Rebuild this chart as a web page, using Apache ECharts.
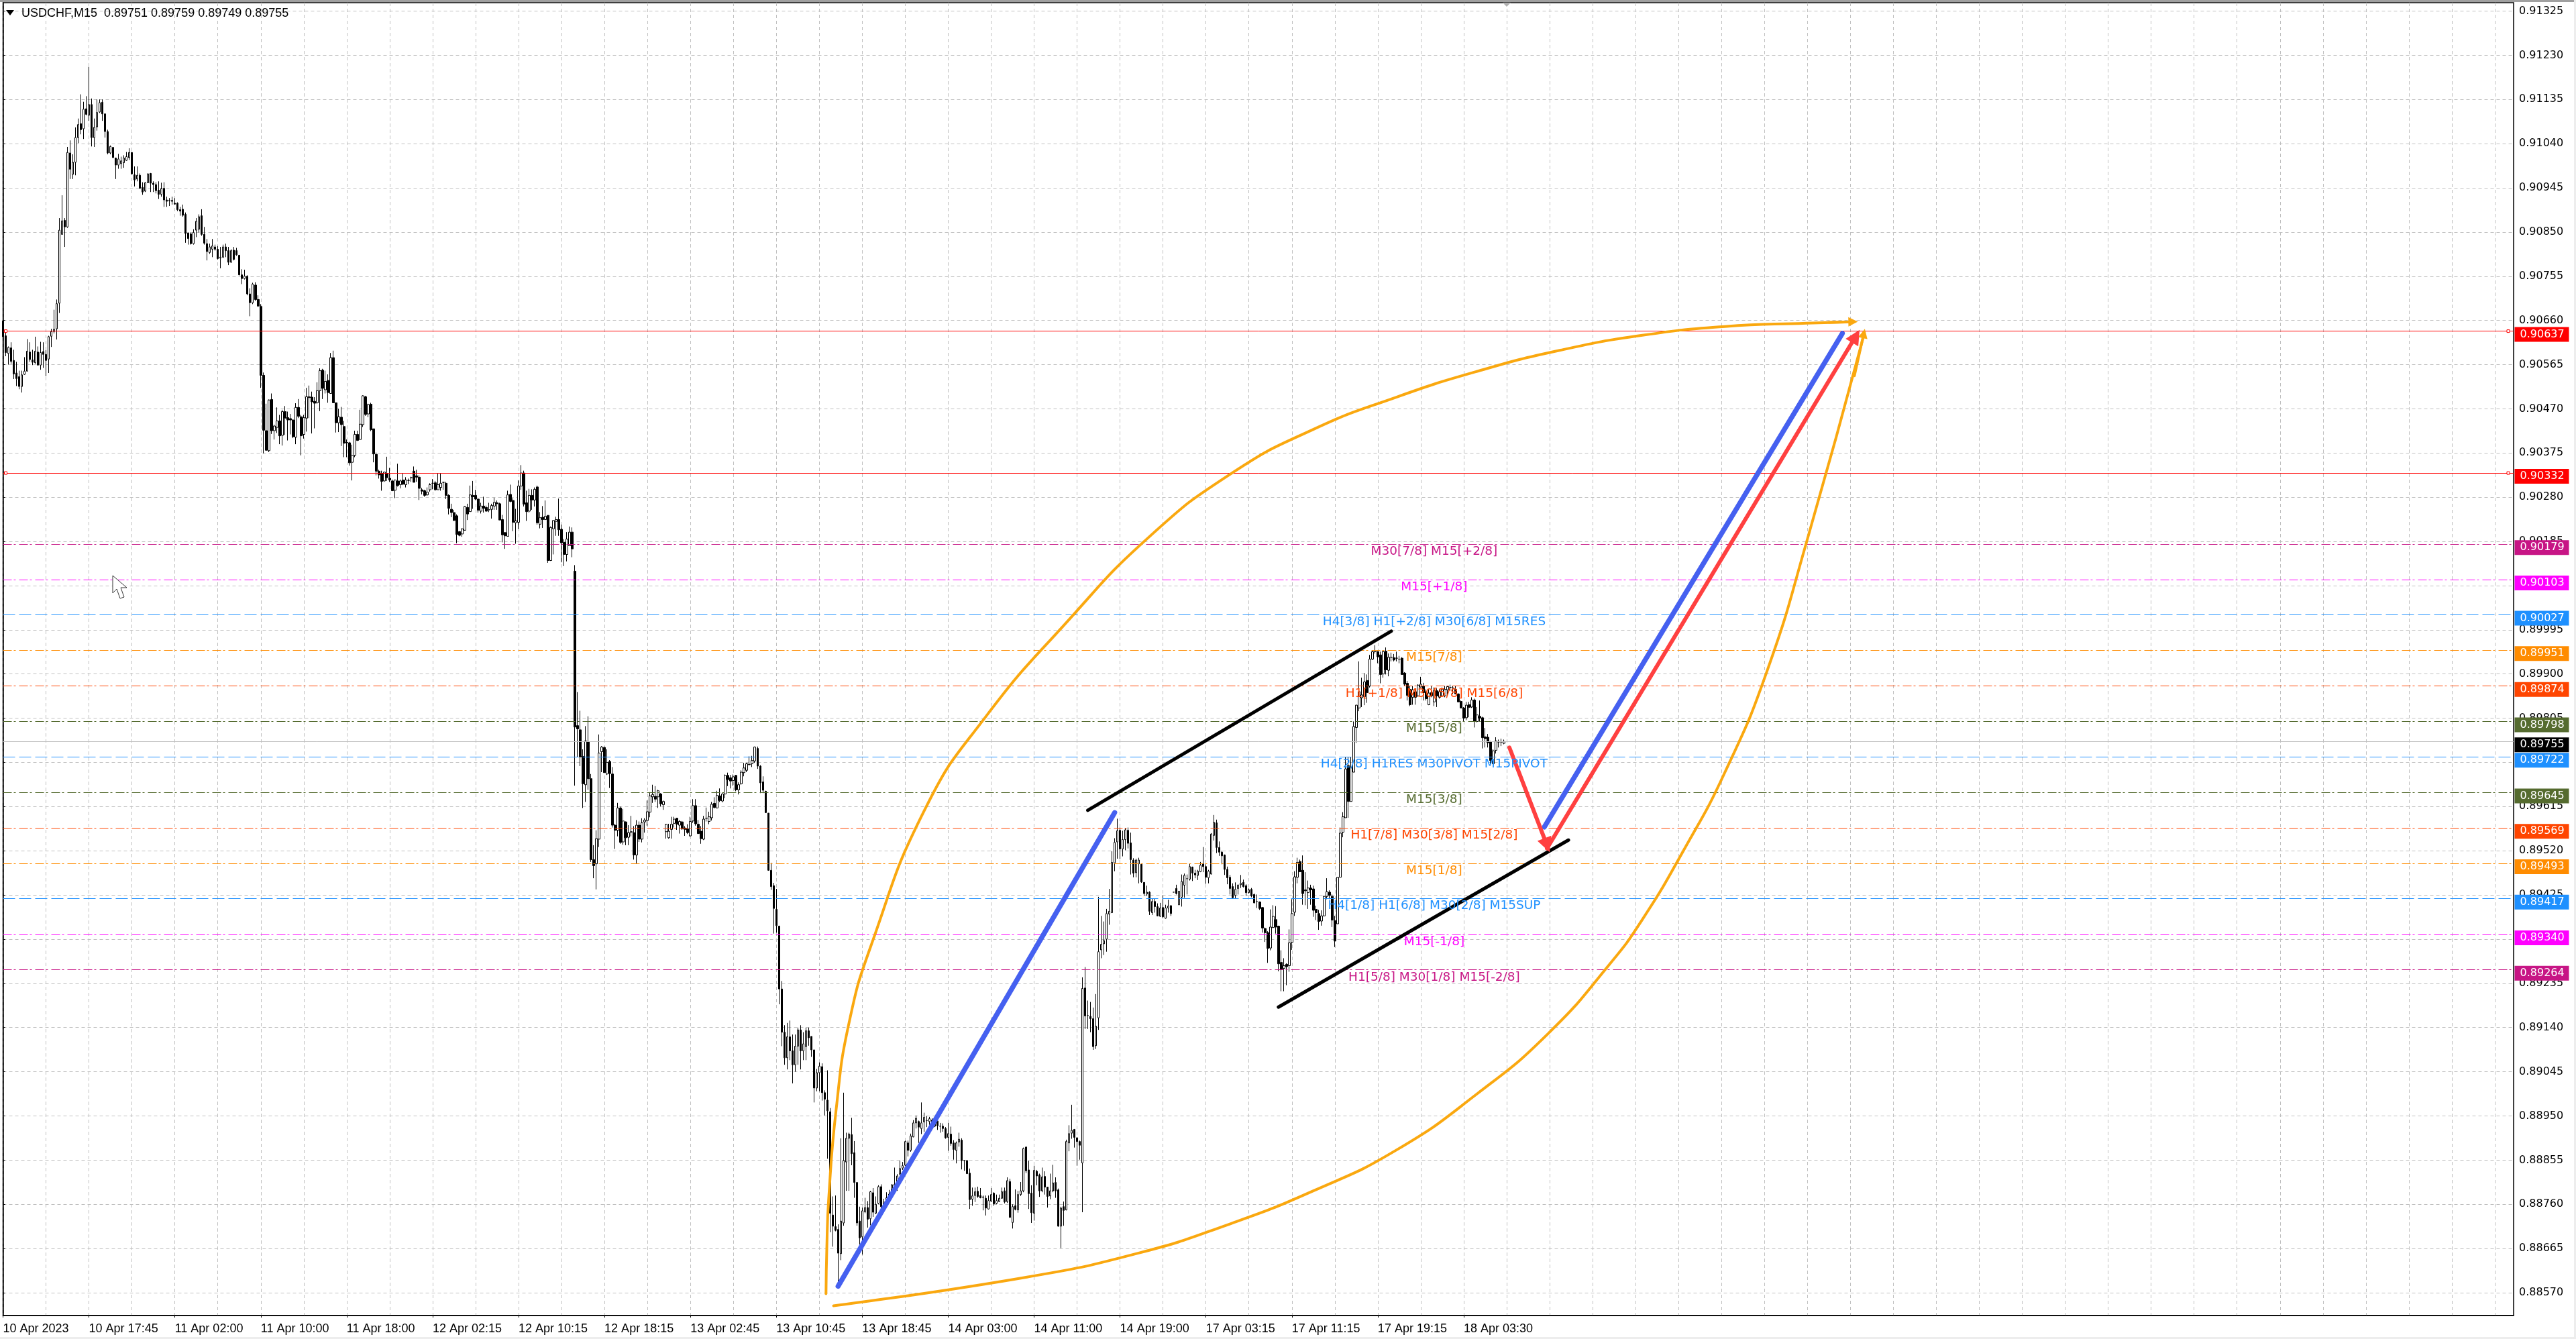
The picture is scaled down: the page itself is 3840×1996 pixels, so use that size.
<!DOCTYPE html>
<html><head><meta charset="utf-8">
<style>html,body{margin:0;padding:0;background:#fff}#c{width:3840px;height:1996px}</style>
<script src="https://cdn.jsdelivr.net/npm/echarts@6/dist/echarts.min.js"></script>
</head><body><div id="c"></div>
<script>
// Candle rows: [open, close, high, low] in points above 0.88000
const candlesA=[[2659,2625,2660,2623],[2627,2591,2637,2583],[2589,2602,2604,2565],[2601,2572,2613,2567],[2574,2545,2597,2534],[2547,2535,2571,2519],[2539,2518,2552,2512],[2518,2543,2552,2505],[2544,2551,2581,2543],[2551,2594,2620,2551],[2592,2576,2613,2571],[2575,2570,2597,2564],[2569,2594,2625,2567],[2592,2564,2604,2564],[2564,2591,2614,2554],[2593,2587,2613,2558],[2587,2574,2596,2540],[2577,2625,2627,2547],[2626,2636,2642,2603],[2636,2641,2683,2632],[2642,2696,2705,2619],[2697,2854,2880,2676],[2845,2874,2929,2845],[2875,2861,2880,2818],[2861,3021,3033,2859],[3020,2985,3047,2964],[2974,3000,3017,2964],[3000,3053,3075,2972],[3053,3081,3094,3041],[3083,3070,3146,3060],[3072,3114,3130,3050],[3115,3103,3142,3101],[3101,3124,3205,3089],[3124,3053,3137,3034],[3053,3075,3094,3033],[3076,3107,3135,3068],[3108,3128,3135,3106],[3129,3104,3135,3089],[3104,3066,3104,3053],[3066,3020,3070,3017],[3020,3034,3036,3017],[3032,3010,3032,3010],[3009,2994,3010,2964],[2994,3007,3018,2986],[2997,3003,3012,2986],[2999,3009,3015,2988],[3004,3012,3022,3003],[3010,3021,3030,3005],[3021,2975,3022,2974],[2973,2962,2991,2948],[2964,2972,2991,2959],[2972,2944,2976,2943],[2946,2936,2957,2930],[2938,2956,2957,2936],[2956,2975,2976,2955],[2976,2955,2977,2936],[2955,2952,2959,2936],[2952,2939,2957,2933],[2940,2931,2959,2921],[2931,2943,2956,2926],[2944,2919,2957,2904],[2919,2916,2926,2904],[2918,2917,2923,2906],[2918,2916,2926,2909],[2912,2910,2923,2909],[2912,2898,2914,2895],[2898,2895,2904,2885],[2899,2886,2909,2883],[2888,2847,2892,2827],[2848,2836,2849,2823],[2846,2825,2849,2823],[2825,2849,2856,2823],[2854,2873,2880,2839],[2856,2883,2888,2849],[2885,2845,2899,2842],[2845,2826,2861,2823],[2825,2808,2835,2789],[2806,2818,2825,2803],[2813,2820,2835,2796],[2818,2813,2823,2810],[2813,2793,2820,2791],[2794,2796,2818,2772],[2796,2818,2823,2794],[2818,2810,2825,2796],[2810,2785,2818,2779],[2785,2810,2813,2784],[2811,2791,2818,2789],[2810,2801,2816,2799],[2800,2758,2801,2757],[2758,2750,2770,2738],[2750,2755,2769,2748],[2755,2717,2757,2714],[2717,2698,2729,2669],[2698,2738,2741,2695],[2736,2705,2742,2702],[2705,2691,2714,2689]];
const candlesB=[[2690,2542,2695,2515],[2542,2424,2548,2374],[2423,2381,2481,2380],[2380,2489,2490,2377],[2490,2423,2503,2416],[2423,2433,2436,2404],[2430,2444,2473,2418],[2444,2412,2457,2394],[2413,2464,2468,2391],[2464,2450,2476,2414],[2451,2446,2464,2402],[2449,2446,2459,2415],[2446,2410,2447,2407],[2409,2473,2482,2394],[2473,2454,2491,2450],[2453,2412,2457,2370],[2415,2451,2457,2406],[2450,2496,2515,2421],[2496,2494,2520,2450],[2495,2485,2507,2417],[2486,2482,2495,2428],[2483,2509,2527,2481],[2509,2552,2557,2465],[2553,2514,2556,2491],[2511,2529,2552,2503],[2531,2505,2544,2483],[2503,2580,2590,2503],[2580,2483,2595,2483],[2483,2440,2483,2419],[2440,2453,2470,2420],[2452,2436,2474,2390],[2432,2396,2444,2366],[2398,2397,2404,2366],[2397,2354,2399,2348],[2355,2370,2393,2316],[2370,2415,2423,2366],[2415,2402,2423,2401],[2404,2437,2468,2404],[2436,2498,2499,2431],[2496,2458,2498,2455],[2459,2479,2481,2452],[2480,2425,2483,2422],[2427,2373,2427,2355],[2372,2336,2376,2327],[2336,2328,2339,2320],[2331,2314,2337,2294],[2315,2334,2335,2313],[2331,2322,2367,2315],[2321,2317,2343,2313],[2315,2294,2318,2293],[2295,2317,2318,2278],[2315,2305,2352,2303],[2307,2315,2318,2299],[2317,2308,2331,2306],[2307,2317,2323,2301],[2316,2316,2320,2308],[2322,2322,2324,2313],[2336,2312,2346,2312],[2326,2323,2339,2313],[2323,2299,2327,2274],[2296,2293,2300,2286],[2294,2284,2296,2281],[2285,2291,2301,2283],[2296,2307,2310,2292],[2310,2310,2319,2297],[2311,2296,2315,2294],[2296,2307,2332,2296],[2301,2310,2332,2294],[2312,2312,2313,2296],[2310,2284,2313,2276],[2284,2256,2286,2243],[2254,2247,2266,2237],[2247,2230,2253,2229],[2240,2200,2243,2181],[2206,2198,2207,2196],[2201,2212,2213,2195],[2209,2260,2261,2208],[2258,2244,2266,2231],[2249,2285,2305,2249],[2284,2281,2315,2255],[2284,2276,2296,2274],[2276,2252,2277,2247],[2250,2261,2268,2245],[2261,2256,2281,2247],[2258,2250,2262,2249],[2253,2253,2268,2248],[2254,2262,2266,2234],[2261,2269,2279,2253],[2268,2266,2273,2253],[2266,2231,2268,2231],[2232,2199,2242,2183],[2204,2197,2205,2169],[2196,2285,2294,2196],[2286,2271,2307,2269],[2273,2226,2278,2207],[2225,2229,2255,2180],[2226,2304,2316,2212],[2304,2332,2349,2296],[2332,2265,2337,2260],[2268,2249,2294,2229],[2250,2284,2298,2247],[2284,2274,2297,2253],[2274,2297,2301,2260],[2302,2225,2305,2221],[2222,2236,2248,2213],[2237,2232,2261,2214],[2232,2239,2273,2231],[2241,2144,2241,2139],[2144,2215,2217,2143],[2212,2230,2231,2157],[2228,2232,2238,2197],[2232,2210,2277,2197],[2211,2182,2221,2140],[2183,2157,2190,2132],[2157,2190,2205,2142],[2176,2205,2217,2176],[2205,2169,2215,2151]];
const candlesC=[[2121,1786,2134,1660],[1789,1782,1861,1722],[1780,1722,1821,1702],[1723,1664,1738,1612],[1662,1756,1788,1625],[1754,1675,1809,1651],[1675,1501,1685,1496],[1501,1488,1532,1461],[1492,1546,1564,1437],[1545,1730,1770,1528],[1733,1743,1745,1689],[1742,1688,1744,1688],[1685,1710,1738,1683],[1712,1686,1715,1655],[1685,1575,1700,1570],[1575,1564,1578,1524],[1564,1612,1623,1551],[1612,1538,1615,1535],[1539,1584,1610,1533],[1582,1548,1583,1532],[1549,1559,1575,1532],[1561,1560,1595,1551],[1559,1511,1573,1501],[1511,1575,1586,1492],[1575,1545,1583,1539],[1545,1580,1590,1538],[1582,1586,1590,1559],[1585,1604,1628,1574],[1603,1638,1646,1592],[1636,1641,1662,1623],[1637,1631,1659,1625],[1636,1649,1651,1612],[1642,1621,1644,1615],[1619,1626,1628,1608],[1561,1577,1578,1546],[1548,1562,1578,1546],[1566,1577,1593,1546],[1579,1588,1593,1570],[1590,1577,1591,1565],[1575,1583,1586,1557],[1582,1567,1584,1565],[1569,1566,1573,1552],[1567,1559,1577,1556],[1552,1583,1593,1550],[1584,1617,1631,1580],[1617,1578,1631,1574],[1577,1557,1586,1556],[1562,1546,1573,1535],[1545,1588,1595,1543],[1590,1590,1613,1583],[1583,1593,1604,1577],[1591,1620,1625,1585],[1622,1613,1635,1611],[1612,1639,1649,1611],[1638,1628,1654,1625],[1627,1642,1644,1624],[1642,1682,1684,1633],[1682,1673,1688,1659],[1677,1670,1683,1654],[1671,1679,1684,1660],[1682,1651,1683,1648],[1651,1662,1667,1641],[1664,1689,1693,1662],[1688,1698,1709,1680],[1693,1707,1709,1689],[1706,1705,1723,1704],[1707,1714,1724,1700],[1713,1743,1744,1709],[1740,1702,1744,1696],[1702,1666,1704,1644],[1668,1650,1680,1644],[1648,1602,1649,1601],[1601,1478,1601,1477],[1478,1443,1494,1436],[1445,1396,1451,1342],[1394,1359,1438,1344],[1358,1223,1359,1190]];
const candlesD=[[1223,1130,1240,1100],[1130,1075,1145,1060],[1075,1120,1150,1050],[1120,1090,1155,1070],[1090,1060,1125,1020],[1060,1100,1125,1045],[1100,1135,1140,1060],[1135,1090,1145,1050],[1090,1105,1130,1070],[1099,1133,1140,1070],[1133,1118,1140,1101],[1121,1092,1121,1077],[1092,1010,1092,979],[1010,1043,1051,1003],[1043,1057,1065,1003],[1056,1000,1063,983],[1000,986,1005,951],[984,961,1048,858],[959,741,967,700],[737,713,777,669],[712,704,779,702],[706,655,717,594],[654,724,902,640],[720,854,1000,714],[851,902,914,789],[902,911,914,789],[910,869,946,844],[871,807,896,774],[807,720,807,714],[724,688,755,673],[690,746,753,652],[744,753,774,741],[753,728,767,710],[729,787,789,715],[785,743,795,733],[741,760,777,739],[762,798,801,760],[798,755,803,750],[755,765,772,753],[765,774,786,762],[772,782,791,767],[786,802,803,784],[798,803,839,796],[798,821,825,789],[825,837,854,822],[838,843,851,834],[844,895,897,842],[892,876,897,863],[876,907,912,873],[905,935,941,904],[935,945,951,923],[938,926,940,892],[923,935,979,911],[937,947,957,916],[940,940,950,926],[938,944,948,931],[941,938,945,923],[928,938,945,926],[939,929,940,920],[928,928,935,914],[928,923,934,916],[923,903,926,901],[904,912,935,875],[911,891,927,886],[892,878,898,856],[876,892,895,848],[894,900,914,884],[898,854,902,835],[854,854,855,832],[854,826,855,825],[827,770,837,750],[771,778,796,757],[779,787,796,765],[788,777,798,774],[779,774,795,773],[776,775,779,747],[773,752,779,736],[750,768,779,749],[767,781,795,765],[784,761,786,757],[762,768,781,760],[766,773,781,765],[773,787,796,772],[789,765,796,762],[766,811,818,763],[809,732,815,731],[721,755,760,708],[757,749,792,747],[748,781,789,742],[781,789,808,778],[789,880,882,786],[883,832,885,827],[834,783,854,750],[784,742,801,720],[741,833,843,725],[831,821,834,801],[823,789,826,776],[789,819,839,786],[820,797,831,781],[797,777,797,753],[778,789,826,771],[789,806,845,786],[807,789,818,774],[791,713,794,712],[713,752,755,666],[755,747,766,714],[748,895,899,747],[892,912,930,874],[913,919,974,901],[921,904,922,882],[903,895,904,843],[895,887,897,856]];
const candlesE=[[849,1224,1248,743],[1225,1165,1270,1137],[1166,1166,1198,1137],[1164,1159,1195,1130],[1159,1099,1183,1092],[1101,1143,1212,1094],[1161,1303,1421,1135],[1307,1319,1380,1289],[1320,1327,1368,1296],[1330,1385,1395,1303],[1384,1390,1438,1361],[1387,1495,1519,1386],[1494,1538,1547,1476],[1539,1563,1589,1503],[1564,1524,1570,1502],[1524,1544,1563,1508],[1544,1565,1568,1521],[1564,1536,1570,1525],[1537,1501,1559,1469],[1500,1472,1504,1463],[1473,1500,1503,1463],[1492,1500,1505,1450],[1491,1453,1492,1451],[1452,1428,1452,1423],[1427,1431,1445,1423],[1431,1390,1433,1382],[1387,1411,1417,1382],[1411,1400,1417,1387],[1400,1380,1407,1379],[1379,1397,1408,1378],[1398,1378,1424,1375],[1375,1397,1404,1374],[1397,1401,1415,1387],[1402,1385,1403,1380],[1431,1431,1431,1431],[1439,1428,1447,1426],[1404,1433,1434,1403],[1420,1454,1469,1400],[1446,1467,1471,1419],[1460,1460,1469,1426],[1459,1486,1492,1456],[1485,1472,1486,1455],[1472,1468,1479,1461],[1467,1476,1479,1457],[1475,1489,1496,1474],[1492,1486,1528,1474],[1486,1463,1491,1449],[1462,1476,1479,1450],[1470,1556,1558,1469],[1553,1581,1597,1542],[1580,1527,1587,1515],[1527,1517,1540,1509],[1517,1509,1520,1491],[1511,1480,1512,1468],[1480,1462,1486,1448],[1463,1439,1468,1426],[1443,1419,1450,1417],[1424,1437,1452,1418],[1439,1446,1448,1426],[1447,1450,1468,1440],[1452,1443,1458,1441],[1445,1430,1448,1423],[1430,1436,1439,1428],[1437,1423,1440,1420],[1426,1408,1428,1407],[1411,1411,1426,1397],[1410,1396,1411,1393],[1398,1354,1399,1344],[1353,1344,1355,1324],[1344,1310,1347,1279],[1311,1356,1394,1306],[1355,1379,1403,1354],[1372,1356,1401,1342],[1358,1277,1359,1261],[1280,1265,1306,1218],[1267,1273,1289,1218],[1276,1271,1278,1231],[1273,1322,1351,1260],[1323,1385,1416,1307],[1388,1464,1476,1380],[1463,1495,1505,1450],[1497,1475,1501,1474],[1478,1428,1510,1404],[1436,1434,1474,1403],[1430,1440,1456,1395],[1440,1436,1447,1404],[1438,1392,1445,1378],[1394,1387,1402,1371],[1385,1368,1393,1350],[1369,1380,1392,1359],[1380,1422,1423,1379],[1422,1432,1461,1416],[1431,1424,1435,1416],[1422,1371,1426,1356],[1370,1326,1380,1313],[1363,1463,1464,1363],[1463,1558,1570,1463]];
const candlesF=[[1560,1593,1603,1549],[1591,1696,1721,1591],[1703,1626,1721,1591],[1626,1700,1722,1626],[1689,1787,1798,1689],[1785,1833,1834,1752],[1827,1862,1927,1820],[1849,1855,1892,1829],[1851,1883,1902,1833],[1886,1860,1899,1838],[1874,1932,1941,1871],[1932,1948,1951,1930],[1948,1948,1962,1944],[1948,1937,1949,1923],[1941,1899,1948,1880],[1900,1948,1950,1892],[1949,1909,1957,1899],[1908,1936,1944,1895],[1936,1936,1946,1927],[1935,1930,1943,1927],[1934,1934,1948,1927],[1932,1932,1939,1923],[1934,1899,1936,1899],[1902,1878,1904,1874],[1880,1854,1885,1843],[1867,1834,1874,1831],[1850,1866,1874,1834],[1862,1850,1867,1834],[1853,1876,1878,1851],[1872,1878,1894,1871],[1874,1860,1881,1843],[1862,1847,1867,1843],[1834,1859,1867,1833],[1860,1853,1874,1850],[1840,1864,1871,1831],[1864,1853,1869,1829],[1850,1862,1867,1847],[1853,1867,1871,1853],[1853,1867,1874,1850],[1866,1873,1874,1853],[1871,1871,1877,1864],[1870,1870,1874,1857],[1867,1857,1874,1857],[1857,1840,1859,1840],[1841,1827,1843,1826],[1827,1805,1829,1798],[1806,1833,1840,1801],[1834,1828,1840,1807],[1829,1844,1850,1827],[1844,1798,1847,1785],[1798,1812,1829,1796],[1809,1805,1843,1798],[1806,1763,1808,1740],[1765,1761,1784,1742],[1764,1752,1771,1742],[1754,1714,1756,1703],[1707,1735,1738,1705],[1736,1756,1764,1729],[1754,1754,1759,1742],[1754,1754,1761,1745],[1751,1755,1759,1749]];

const timeLabels=['10 Apr 2023','10 Apr 17:45','11 Apr 02:00','11 Apr 10:00','11 Apr 18:00','12 Apr 02:15','12 Apr 10:15','12 Apr 18:15','13 Apr 02:45','13 Apr 10:45','13 Apr 18:45','14 Apr 03:00','14 Apr 11:00','14 Apr 19:00','17 Apr 03:15','17 Apr 11:15','17 Apr 19:15','18 Apr 03:30'];
const priceTicks=[0.91325,0.91230,0.91135,0.91040,0.90945,0.90850,0.90755,0.90660,0.90565,0.90470,0.90375,0.90280,0.90185,0.90090,0.89995,0.89900,0.89805,0.89710,0.89615,0.89520,0.89425,0.89330,0.89235,0.89140,0.89045,0.88950,0.88855,0.88760,0.88665,0.88570];

const levelPrices=[0.90179,0.90103,0.90027,0.89951,0.89874,0.89798,0.89722,0.89645,0.89569,0.89493,0.89417,0.89340,0.89264];
const levelColors=['#C71585','#FF00FF','#1E90FF','#FF8C00','#FF4500','#556B2F','#1E90FF','#556B2F','#FF4500','#FF8C00','#1E90FF','#FF00FF','#C71585'];
const levelTexts=['M30[7/8] M15[+2/8]','M15[+1/8]','H4[3/8] H1[+2/8] M30[6/8] M15RES','M15[7/8]','H1[+1/8] M30[5/8] M15[6/8]','M15[5/8]','H4[2/8] H1RES M30PIVOT M15PIVOT','M15[3/8]','H1[7/8] M30[3/8] M15[2/8]','M15[1/8]','H4[1/8] H1[6/8] M30[2/8] M15SUP','M15[-1/8]','H1[5/8] M30[1/8] M15[-2/8]'];
const redPrices=[0.90637,0.90332];
const lastPrice=0.89755;

// Hand-drawn annotations: [bar index, points above 0.88000]
const upperCurve=[[306.5,568],[306.8,666],[307.5,772],[310.3,965],[315,1148],[323.5,1320],[343.5,1611],[365.7,1806],[396.4,2013],[426.9,2195],[457.7,2332],[488.1,2426],[518.9,2495],[549.3,2551],[580,2596],[610.5,2628],[641.3,2647],[671.7,2654],[689,2657]];
const lowerCurve=[[309.3,542],[381.7,604],[423.4,656],[456,716],[488,789],[519,877],[549.3,999],[575.6,1128],[598.3,1276],[610.5,1372],[625.8,1520],[641.3,1689],[657,1907],[671.7,2184],[693.2,2632]];
const blueSegments=[[[311,584],[414,1602]],[[574,1571],[685,2632]]];
const blackSegments=[[[404,1607],[517,1992]],[[475,1184],[583,1543]]];
const redArrows=[[[561,1742],[575,1532]],[[575,1525],[690,2626]]];
const orangeArrows=[[[680,2656],[689,2657]],[[689.5,2541],[693,2632]]];

const toPrice=v=>(88000+v)/100000;
const BAR_SLOTS=936;
const rows=[...candlesA,...candlesB,...candlesC,...candlesD,...candlesE,...candlesF];
const ohlc=rows.map(r=>[toPrice(r[0]),toPrice(r[1]),toPrice(r[3]),toPrice(r[2])]);
const categories=Array.from({length:BAR_SLOTS},(_,i)=>String(i));
const pt=a=>[a[0],toPrice(a[1])];
const dashDot=[13,3,3,5], longDash=[18,6];

function segSeries(segs,color,width,arrow,size,z){
  return {type:'line',xAxisIndex:1,yAxisIndex:0,data:[],z:z||6,silent:true,animation:false,
    markLine:{silent:true,animation:false,symbol:arrow?['none','triangle']:['none','none'],symbolSize:size||0,
      lineStyle:{color:color,width:width,type:'solid',cap:'round',opacity:1},label:{show:false},
      data:segs.map(s=>[{coord:pt(s[0])},{coord:pt(s[1])}])}};
}
function curve(points,color,width){
  return {type:'line',xAxisIndex:1,yAxisIndex:0,data:points.map(pt),smooth:true,symbol:'none',silent:true,animation:false,
    clip:false,z:6,lineStyle:{color:color,width:width,cap:'round'}};
}
function hline(p,color,type){
  return [{coord:[0,p],lineStyle:{color:color,width:1,type:type,opacity:1}},{coord:[935,p]}];
}
const levelLines={type:'line',xAxisIndex:1,yAxisIndex:0,data:[],z:1,silent:true,animation:false,
  markLine:{silent:true,animation:false,symbol:['none','none'],label:{show:false},
    data:[
      ...levelPrices.map((p,i)=>hline(p,levelColors[i],levelColors[i]==='#1E90FF'?longDash:dashDot)),
      ...redPrices.map(p=>hline(p,'#FF0000','solid')),
      hline(lastPrice,'#C0C0C0','solid')
    ]}};

function tag(price,bg,fg){
  return {value:[935,price],label:{show:true,position:'right',distance:1,offset:[0,5],formatter:price.toFixed(5),
    backgroundColor:bg,color:fg||'#fff',opacity:1,fontFamily:'DejaVu Sans',fontSize:16,width:73,height:22,lineHeight:22,
    padding:[0,0,0,8],align:'left',verticalAlign:'middle'}};
}
const tagSeries={type:'scatter',xAxisIndex:1,yAxisIndex:0,symbolSize:1,clip:false,silent:true,animation:false,z:20,
  itemStyle:{color:'transparent',opacity:1},
  data:[...redPrices.map(p=>tag(p,'#FF0000')),...levelPrices.map((p,i)=>tag(p,levelColors[i])),tag(lastPrice,'#000000')]};

const midLabelSeries={type:'scatter',xAxisIndex:1,yAxisIndex:0,symbolSize:1,clip:false,silent:true,animation:false,z:15,
  itemStyle:{color:'transparent',opacity:1},
  data:levelPrices.map((p,i)=>({value:[533,p],label:{show:true,position:'inside',offset:[0,11],formatter:levelTexts[i],
    color:levelColors[i],opacity:1,fontFamily:'DejaVu Sans',fontSize:18.5}}))};

const redSquares={type:'scatter',xAxisIndex:1,yAxisIndex:0,symbol:'rect',symbolSize:4,silent:true,animation:false,z:8,clip:false,
  itemStyle:{color:'#fff',borderColor:'#FF0000',borderWidth:1,opacity:1},
  data:[[1,redPrices[0]],[1,redPrices[1]],[933,redPrices[0]],[933,redPrices[1]]]};

const chart=echarts.init(document.getElementById('c'),null,{renderer:'canvas',width:3840,height:1996});
chart.setOption({
  backgroundColor:'#fff',animation:false,
  grid:{left:4.5,right:93,top:4,bottom:35,show:true,borderColor:'#000',borderWidth:1.5,backgroundColor:'#fff'},
  tooltip:{show:false},
  xAxis:[
    {type:'category',data:categories,boundaryGap:false,
      axisLine:{lineStyle:{color:'#000',width:1.5}},
      axisTick:{interval:i=>i%32===0&&i/32<timeLabels.length,length:3,lineStyle:{color:'#000'}},
      axisLabel:{interval:i=>i%32===0&&i/32<timeLabels.length,formatter:(v,i)=>timeLabels[i/32]||'',align:'left',margin:11,
        color:'#000',fontFamily:'Liberation Sans',fontSize:18},
      splitLine:{show:true,interval:15,lineStyle:{color:'#C0C0C0',width:1,type:[5,4]}}},
    {type:'value',min:0,max:935,show:false,splitLine:{show:false}}
  ],
  yAxis:{type:'value',position:'right',min:0.88521,max:0.91343,scale:true,
    axisLine:{show:true,lineStyle:{color:'#000',width:1.5}},
    axisTick:{show:true,length:3,customValues:priceTicks,lineStyle:{color:'#000'}},
    axisLabel:{customValues:priceTicks,formatter:v=>v.toFixed(5),margin:8,color:'#000',fontFamily:'DejaVu Sans',fontSize:16,hideOverlap:false,showMinLabel:true,showMaxLabel:true},
    splitLine:{show:true,customValues:priceTicks,lineStyle:{color:'#C0C0C0',width:1,type:[5,4]}}},
  series:[
    levelLines,
    {type:'candlestick',xAxisIndex:0,yAxisIndex:0,data:ohlc,barWidth:3,z:3,silent:true,animation:false,large:false,progressive:0,
      itemStyle:{color:'#FFFFFF',color0:'#000000',borderColor:'#000000',borderColor0:'#000000',borderWidth:1}},
    curve(upperCurve,'#FAA80F',4),
    curve(lowerCurve,'#FAA80F',4),
    segSeries(orangeArrows,'#FAA80F',4,true,14,6),
    segSeries(blackSegments,'#000000',5,false,0,6),
    segSeries(blueSegments,'#4560F0',7.5,false,0,7),
    segSeries(redArrows,'#FF4040',6,true,22,7),
    redSquares,midLabelSeries,tagSeries
  ],
  graphic:{elements:[
    {type:'rect',silent:true,z:100,shape:{x:0,y:0,width:3840,height:3},style:{fill:'#A0A0A0'}},
    {type:'rect',silent:true,z:100,shape:{x:0,y:1993,width:3840,height:3},style:{fill:'#EDEDED'}},
    {type:'rect',silent:true,z:100,shape:{x:3837,y:0,width:3,height:1996},style:{fill:'#EDEDED'}},
    {type:'polygon',silent:true,z:100,shape:{points:[[9,15],[21,15],[15,23]]},style:{fill:'#000'}},
    {type:'text',silent:true,z:100,x:32,y:11,style:{text:'USDCHF,M15  0.89751 0.89759 0.89749 0.89755',fill:'#000',font:'18px "Liberation Sans"'}},
    {type:'polygon',silent:true,z:100,shape:{points:[[2240,4],[2252,4],[2246,10]]},style:{fill:'#B0B0B0'}},
    {type:'polygon',silent:true,z:100,shape:{points:[[168,858],[168,884],[174,878],[179,892],[185,890],[180,876],[189,876]]},style:{fill:'#fff',stroke:'#333',lineWidth:1}}
  ]}
});
</script></body></html>
